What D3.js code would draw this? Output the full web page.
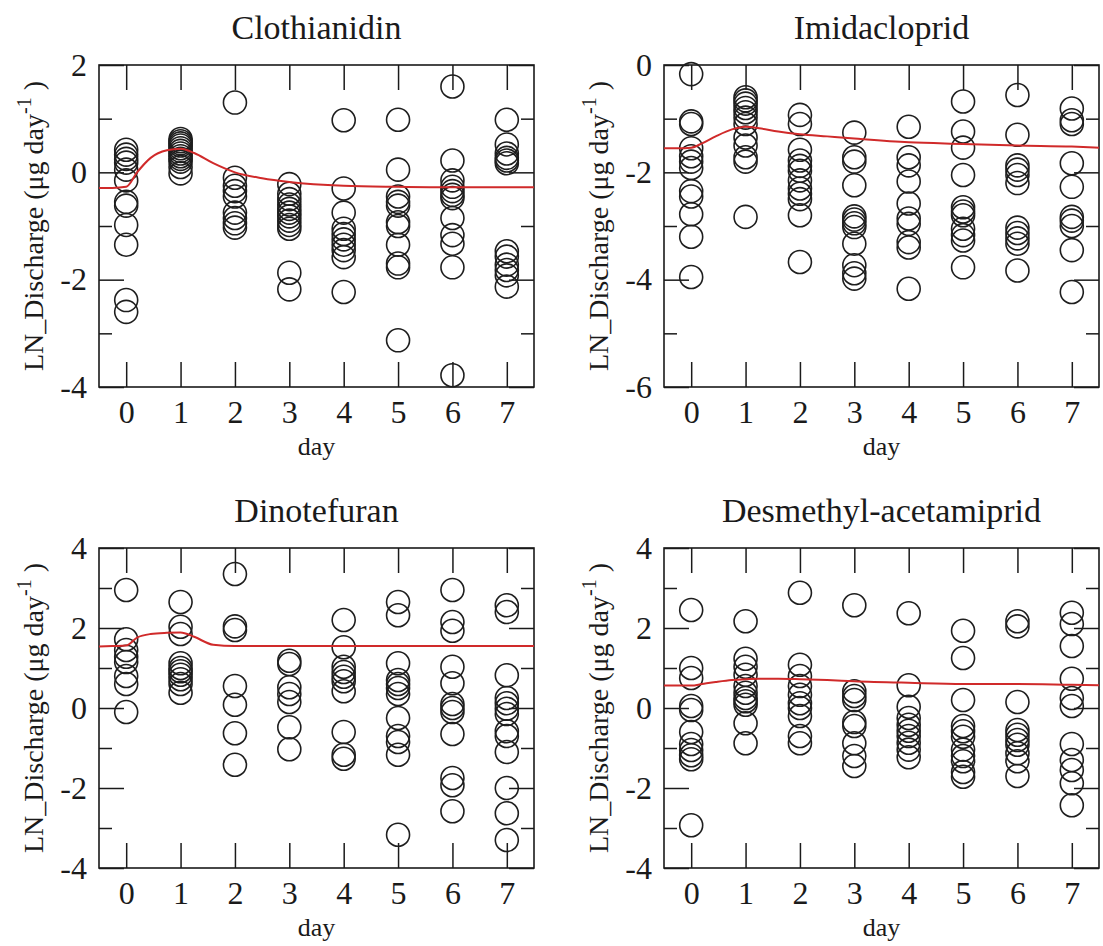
<!DOCTYPE html>
<html>
<head>
<meta charset="utf-8">
<script src="https://cdn.jsdelivr.net/npm/d3@7"></script>
<style>
  body { margin: 0; background: #fff; }
  svg text { font-family: "Liberation Serif", "Times New Roman", serif; fill: #1a1a1a; }
</style>
</head>
<body>
<svg width="1103" height="946"></svg>
<script>
// days on the x axis
const days = [0, 1, 2, 3, 4, 5, 6, 7];

const titles = ['Clothianidin', 'Imidacloprid', 'Dinotefuran', 'Desmethyl-acetamiprid'];

// y ranges and labelled ticks for each panel
const yDomains = [[-4, 2], [-6, 0], [-4, 4], [-4, 4]];
const yLabels = [[-4, -2, 0, 2], [-6, -4, -2, 0], [-4, -2, 0, 2, 4], [-4, -2, 0, 2, 4]];

const clothianidin = [
  [0.42, 0.33, 0.25, 0.18, 0.05, -0.15, -0.55, -0.62, -0.98, -1.35, -2.38, -2.6],
  [0.62, 0.58, 0.54, 0.5, 0.45, 0.4, 0.35, 0.3, 0.25, 0.2, 0.1, -0.02],
  [1.3, -0.1, -0.25, -0.35, -0.45, -0.75, -0.85, -0.95, -1.03],
  [-0.22, -0.4, -0.5, -0.6, -0.68, -0.75, -0.82, -0.9, -0.98, -1.05, -1.87, -2.18],
  [0.97, -0.3, -0.75, -1.05, -1.15, -1.25, -1.35, -1.45, -1.58, -2.23],
  [0.98, 0.05, -0.45, -0.55, -0.62, -0.93, -1.0, -1.35, -1.7, -1.77, -3.13],
  [1.6, 0.22, -0.15, -0.27, -0.35, -0.42, -0.48, -0.85, -1.17, -1.33, -1.77, -3.78],
  [0.98, 0.52, 0.35, 0.27, 0.22, 0.17, -1.47, -1.57, -1.72, -1.82, -1.92, -2.13]
];
const imidacloprid = [
  [-0.17, -1.05, -1.1, -1.55, -1.7, -1.8, -1.92, -2.35, -2.45, -2.78, -3.2, -3.95],
  [-0.6, -0.66, -0.72, -0.8, -0.88, -0.98, -1.1, -1.35, -1.5, -1.72, -1.8, -2.83],
  [-0.93, -1.1, -1.58, -1.78, -1.88, -1.97, -2.15, -2.3, -2.4, -2.5, -2.8, -3.67],
  [-1.26, -1.72, -1.8, -2.24, -2.82, -2.88, -2.95, -3.02, -3.33, -3.73, -3.88, -3.98],
  [-1.15, -1.72, -1.87, -2.17, -2.58, -2.86, -2.96, -3.3, -3.4, -4.17],
  [-0.68, -1.24, -1.54, -2.05, -2.65, -2.73, -2.8, -3.05, -3.17, -3.27, -3.77],
  [-0.56, -1.3, -1.87, -1.95, -2.05, -2.2, -3.03, -3.13, -3.23, -3.33, -3.83],
  [-0.81, -1.03, -1.1, -1.83, -2.27, -2.83, -2.9, -3.0, -3.45, -4.23]
];
const dinotefuran = [
  [2.95, 1.72, 1.45, 1.28, 1.15, 0.8, 0.6, -0.1],
  [2.65, 2.03, 1.85, 1.12, 1.0, 0.92, 0.83, 0.72, 0.6, 0.38],
  [3.35, 2.04, 1.95, 0.55, 0.08, -0.63, -1.42],
  [1.18, 1.1, 0.52, 0.35, 0.15, -0.48, -1.03],
  [2.2, 1.52, 1.03, 0.9, 0.78, 0.67, 0.42, -0.6, -1.17, -1.27],
  [2.65, 2.32, 1.12, 0.7, 0.6, 0.5, 0.35, -0.25, -0.7, -0.85, -1.17, -3.17],
  [2.95, 2.15, 1.93, 1.03, 0.62, 0.1, 0.0, -0.1, -0.65, -1.75, -1.93, -2.58],
  [2.57, 2.4, 0.82, 0.25, 0.12, -0.02, -0.15, -0.58, -0.7, -1.1, -2.0, -2.63, -3.3]
];
const desmethyl = [
  [2.45, 1.0, 0.75, 0.05, -0.05, -0.6, -0.9, -1.05, -1.18, -1.28, -2.93],
  [2.17, 1.23, 1.03, 0.83, 0.55, 0.38, 0.25, 0.17, 0.08, -0.38, -0.88],
  [2.88, 1.08, 0.8, 0.55, 0.33, 0.12, 0.0, -0.2, -0.7, -0.88],
  [2.57, 0.42, 0.3, 0.2, -0.35, -0.45, -0.88, -1.2, -1.45],
  [2.37, 0.57, 0.03, -0.25, -0.42, -0.57, -0.7, -0.87, -1.04, -1.23],
  [1.93, 1.25, 0.2, -0.45, -0.58, -0.72, -1.04, -1.2, -1.33, -1.6, -1.72],
  [2.17, 2.04, 0.15, -0.55, -0.67, -0.8, -0.92, -1.13, -1.33, -1.7],
  [2.38, 2.1, 1.55, 0.73, 0.25, 0.05, -0.9, -1.3, -1.55, -1.88, -2.43]
];

// smoothed fit (red line), sampled at fitX
const fitX = [-0.5, -0.25, 0, 0.2, 0.45, 0.75, 1, 1.25, 1.6, 2, 2.5, 3, 4, 5, 6, 7, 7.5];
const clothianidinFit = [-0.29, -0.29, -0.27, 0.0, 0.27, 0.41, 0.44, 0.36, 0.17, 0.0, -0.11, -0.18, -0.25, -0.27, -0.28, -0.28, -0.28];
const imidaclopridFit = [-1.55, -1.55, -1.54, -1.46, -1.33, -1.2, -1.15, -1.18, -1.24, -1.29, -1.33, -1.37, -1.44, -1.47, -1.5, -1.52, -1.54];
const dinotefuranFit = [1.54, 1.55, 1.56, 1.76, 1.85, 1.88, 1.89, 1.78, 1.58, 1.55, 1.55, 1.55, 1.55, 1.55, 1.55, 1.55, 1.55];
const desmethylFit = [0.56, 0.56, 0.56, 0.6, 0.65, 0.7, 0.72, 0.73, 0.73, 0.72, 0.7, 0.67, 0.63, 0.6, 0.6, 0.58, 0.57];

const series = [clothianidin, imidacloprid, dinotefuran, desmethyl];
const fits = [clothianidinFit, imidaclopridFit, dinotefuranFit, desmethylFit];

const svg = d3.select('svg');
const serif = '"Liberation Serif", "Times New Roman", serif';

const panelW = 435;
const lefts = [99, 664, 99, 664];
const tops = [65, 65, 548, 548];
const heights = [322, 322, 320, 320];

function drawPanel(i) {
  const w = panelW, h = heights[i];
  const g = svg.append('g')
    .attr('transform', `translate(${lefts[i]}, ${tops[i]})`);

  const x = d3.scaleLinear().domain([-0.5, 7.5]).range([0, w]);
  const y = d3.scaleLinear().domain(yDomains[i]).range([h, 0]);
  const yAll = d3.range(yDomains[i][0], yDomains[i][1] + 1);
  const tickLen = (d) => (d % 2 === 0 ? 25 : 13);

  // bottom axis with labels, ticks inward
  g.append('g')
    .attr('transform', `translate(0, ${h})`)
    .call(d3.axisBottom(x).tickValues(days).tickSize(-25).tickSizeOuter(0).tickPadding(13).tickFormat(d => String(d)))
    .call(a => a.select('.domain').remove());

  g.append('g')
    .call(d3.axisTop(x).tickValues(days).tickSize(-25).tickSizeOuter(0).tickFormat(''))
    .call(a => a.select('.domain').remove());

  g.append('g')
    .call(d3.axisLeft(y).tickValues(yAll).tickSize(-25).tickSizeOuter(0).tickPadding(12)
      .tickFormat(d => (yLabels[i].includes(d) ? String(d) : '')))
    .call(a => a.select('.domain').remove())
    .call(a => a.selectAll('.tick line').attr('x2', d => tickLen(d)));

  g.append('g')
    .attr('transform', `translate(${w}, 0)`)
    .call(d3.axisRight(y).tickValues(yAll).tickSize(-25).tickSizeOuter(0).tickFormat(''))
    .call(a => a.select('.domain').remove())
    .call(a => a.selectAll('.tick line').attr('x2', d => -tickLen(d)));

  g.selectAll('.tick line').attr('stroke', '#1a1a1a').attr('stroke-width', 1.5);
  g.selectAll('.tick text')
    .style('font-family', serif)
    .style('font-size', '32px')
    .attr('fill', '#1a1a1a');

  // frame
  g.append('rect')
    .attr('width', w).attr('height', h)
    .attr('fill', 'none').attr('stroke', '#1a1a1a').attr('stroke-width', 1.6);

  // points
  const pts = [];
  series[i].forEach((vals, di) => vals.forEach(v => pts.push({ day: days[di], v })));
  g.selectAll('circle')
    .data(pts)
    .enter()
    .append('circle')
    .attr('cx', d => x(d.day))
    .attr('cy', d => y(d.v))
    .attr('r', 11.5)
    .attr('fill', 'none')
    .attr('stroke', '#1e1e1e')
    .attr('stroke-width', 1.6);

  // fitted line
  const line = d3.line()
    .x((d, k) => x(fitX[k]))
    .y(d => y(d))
    .curve(d3.curveMonotoneX);
  g.append('path')
    .datum(fits[i])
    .attr('d', line)
    .attr('fill', 'none')
    .attr('stroke', '#d02a2a')
    .attr('stroke-width', 2);

  // title
  g.append('text')
    .attr('x', w / 2)
    .attr('y', -26)
    .attr('text-anchor', 'middle')
    .style('font-family', serif)
    .style('font-size', '34px')
    .text(titles[i]);

  // x label
  g.append('text')
    .attr('x', w / 2)
    .attr('y', h + 68)
    .attr('text-anchor', 'middle')
    .style('font-family', serif)
    .style('font-size', '26px')
    .text('day');

  // y label
  const yl = g.append('text')
    .attr('transform', `translate(-56, ${h / 2}) rotate(-90)`)
    .attr('text-anchor', 'middle')
    .style('font-family', serif)
    .style('font-size', '28px');
  yl.append('tspan').text('LN_Discharge (\u03bcg day');
  yl.append('tspan').attr('dy', -12).style('font-size', '20px').text('-1');
  yl.append('tspan').attr('dy', 12).text(' )');
}

d3.range(4).forEach(drawPanel);
</script>
</body>
</html>
